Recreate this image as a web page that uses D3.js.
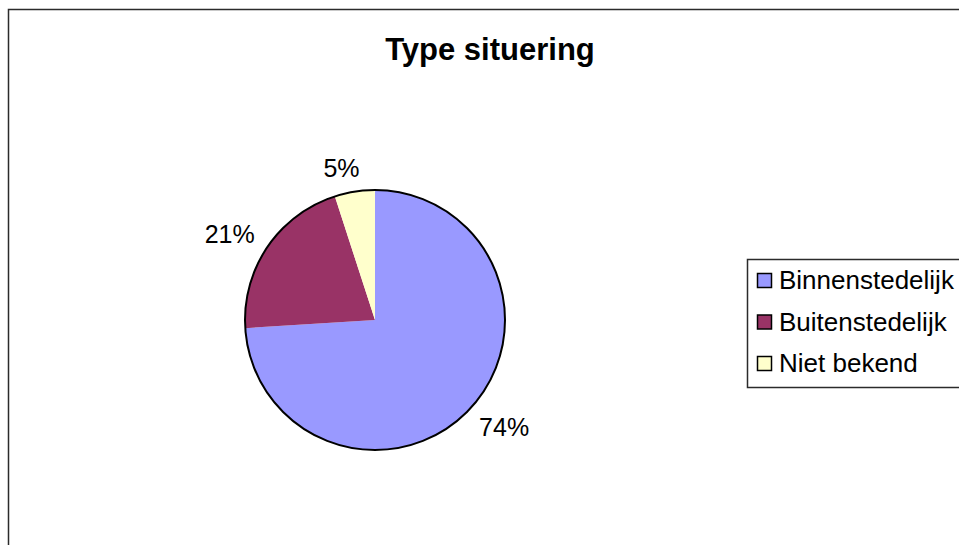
<!DOCTYPE html>
<html>
<head>
<meta charset="utf-8">
<script src="https://cdn.jsdelivr.net/npm/d3@7"></script>
<style>
  html, body { margin: 0; padding: 0; background: #fff; }
  svg { display: block; font-family: "Liberation Sans", Arial, sans-serif; }
</style>
</head>
<body>
<svg id="chart" width="959" height="545"></svg>
<script>
// Chart data
const title = "Type situering";
const categories = ["Binnenstedelijk", "Buitenstedelijk", "Niet bekend"];
const values = [74, 21, 5];
const colors = ["#9999FF", "#993366", "#FFFFCC"];

const svg = d3.select("#chart");
const W = 959, H = 545;

// Chart-area frame (runs off the right and bottom edge)
svg.append("rect")
  .attr("x", 8.5).attr("y", 9.5)
  .attr("width", W + 20).attr("height", H + 20)
  .attr("fill", "#fff")
  .attr("stroke", "#2b2b2b")
  .attr("stroke-width", 1.5);

// Title
svg.append("text")
  .attr("x", 490).attr("y", 60)
  .attr("text-anchor", "middle")
  .attr("font-weight", "bold")
  .attr("font-size", 31)
  .attr("fill", "#000")
  .text(title);

// Pie
const cx = 375, cy = 320, R = 130;
const color = d3.scaleOrdinal().domain(categories).range(colors);
const pie = d3.pie().sort(null).value(d => d.value);
const arcs = pie(categories.map((c, i) => ({ name: c, value: values[i] })));
const arc = d3.arc().innerRadius(0).outerRadius(R);
const total = d3.sum(values);

const g = svg.append("g").attr("transform", `translate(${cx},${cy})`);

g.selectAll("path.slice")
  .data(arcs)
  .join("path")
  .attr("class", "slice")
  .attr("d", arc)
  .attr("fill", d => color(d.data.name));

g.append("circle")
  .attr("r", R)
  .attr("fill", "none")
  .attr("stroke", "#000")
  .attr("stroke-width", 2);

// Percentage labels: the label box sits a fixed gap outside the rim,
// near the slice's mid-angle (nudged slightly counter-clockwise).
const labelGap = 13;
const labelTurn = -0.06;
const labels = g.selectAll("text.pct")
  .data(arcs)
  .join("text")
  .attr("class", "pct")
  .attr("text-anchor", "middle")
  .attr("dy", "0.36em")
  .attr("font-size", 25)
  .attr("fill", "#000")
  .text(d => Math.round(d.data.value / total * 100) + "%");

labels.each(function (d) {
  const bb = this.getBBox();
  const a = (d.startAngle + d.endAngle) / 2 + labelTurn;
  const ux = Math.sin(a), uy = -Math.cos(a);
  const capH = 18;
  const ext = Math.abs(ux) * bb.width / 2 + Math.abs(uy) * capH / 2;
  const r = R + labelGap + ext;
  d3.select(this).attr("transform", `translate(${ux * r},${uy * r})`);
});

// Legend
const legend = svg.append("g");
legend.append("rect")
  .attr("x", 747.5).attr("y", 259.5)
  .attr("width", 260).attr("height", 128)
  .attr("fill", "#fff")
  .attr("stroke", "#2b2b2b")
  .attr("stroke-width", 1.5);

const rowY = d3.scalePoint().domain(categories).range([289, 372]);

const rows = legend.selectAll("g.row")
  .data(categories)
  .join("g")
  .attr("class", "row")
  .attr("transform", d => `translate(0,${rowY(d)})`);

rows.append("rect")
  .attr("x", 757.5).attr("y", -15.5)
  .attr("width", 14).attr("height", 14)
  .attr("fill", d => color(d))
  .attr("stroke", "#000")
  .attr("stroke-width", 1.5);

rows.append("text")
  .attr("x", 779).attr("y", 0)
  .attr("font-size", 26)
  .attr("fill", "#000")
  .text(d => d);
</script>
</body>
</html>
